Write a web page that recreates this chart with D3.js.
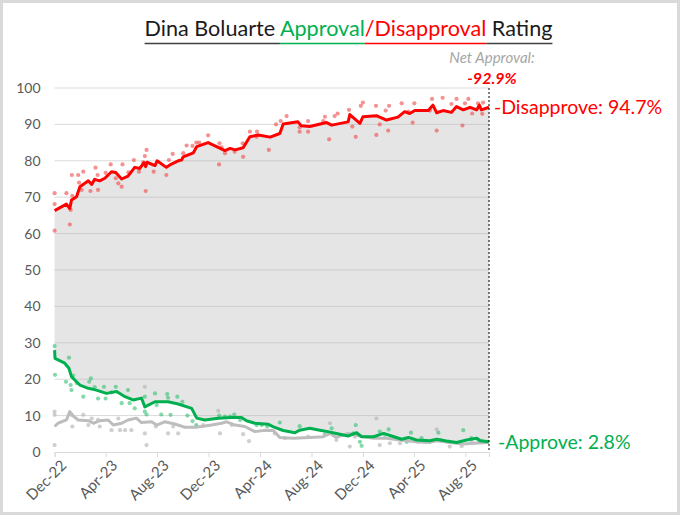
<!DOCTYPE html>
<html>
<head>
<meta charset="utf-8">
<script src="https://cdn.jsdelivr.net/npm/d3@7"></script>
<style>
  body { margin: 0; background: #fff; }
  svg { display: block; font-family: Lato, "Noto Sans", sans-serif; }
  .tick text { fill: #595959; }
</style>
</head>
<body>
<div id="chart"></div>
<script>
// Rolling averages (trend lines).
const disapproveTrend = [
  ['2022-12-01', 66.3], ['2022-12-29', 68.1], ['2023-01-06', 66.9], ['2023-01-10', 69.2],
  ['2023-01-22', 70.1], ['2023-01-30', 72.9], ['2023-02-19', 74.5], ['2023-02-27', 73.5],
  ['2023-03-06', 74.9], ['2023-03-18', 74.5], ['2023-03-30', 75.2], ['2023-04-15', 77.0],
  ['2023-04-25', 76.8], ['2023-05-09', 75.0], ['2023-05-24', 75.8], ['2023-06-09', 78.2],
  ['2023-06-21', 77.9], ['2023-07-01', 79.5], ['2023-07-05', 78.4], ['2023-07-08', 79.6],
  ['2023-07-27', 78.7], ['2023-08-01', 80.0], ['2023-08-23', 78.2], ['2023-09-04', 79.1],
  ['2023-09-20', 80.0], ['2023-09-28', 80.2], ['2023-10-02', 81.1], ['2023-10-26', 82.2],
  ['2023-11-03', 83.9], ['2023-11-30', 85.0], ['2023-12-20', 83.9], ['2024-01-09', 82.8],
  ['2024-01-21', 83.4], ['2024-02-02', 83.0], ['2024-02-21', 83.6], ['2024-03-08', 86.6],
  ['2024-03-28', 87.1], ['2024-04-25', 86.5], ['2024-05-18', 87.5], ['2024-05-26', 90.1],
  ['2024-06-30', 90.7], ['2024-07-08', 89.6], ['2024-07-28', 89.4], ['2024-09-06', 90.5],
  ['2024-09-18', 89.8], ['2024-10-27', 90.7], ['2024-10-31', 92.7], ['2024-11-24', 90.3],
  ['2024-12-01', 92.1], ['2025-01-02', 92.4], ['2025-01-26', 91.2], ['2025-02-22', 92.0],
  ['2025-03-10', 93.5], ['2025-03-22', 93.0], ['2025-04-03', 93.8], ['2025-05-05', 93.8],
  ['2025-05-16', 95.3], ['2025-05-25', 93.2], ['2025-06-09', 93.8], ['2025-06-29', 93.3],
  ['2025-07-11', 94.9], ['2025-07-27', 94.0], ['2025-08-12', 94.7], ['2025-08-28', 94.0],
  ['2025-09-03', 95.3], ['2025-09-08', 94.0], ['2025-09-26', 94.7],
];

const approveTrend = [
  ['2022-12-01', 28.0], ['2022-12-02', 25.7], ['2022-12-25', 24.4], ['2023-01-04', 23.0],
  ['2023-01-10', 20.7], ['2023-01-22', 19.3], ['2023-01-30', 18.4], ['2023-02-19', 17.5],
  ['2023-03-10', 17.0], ['2023-04-03', 16.1], ['2023-04-27', 16.6], ['2023-05-17', 15.2],
  ['2023-06-05', 14.3], ['2023-06-25', 14.8], ['2023-07-03', 12.4], ['2023-07-27', 13.8],
  ['2023-08-27', 13.8], ['2023-09-20', 13.2], ['2023-10-22', 12.0], ['2023-11-03', 9.3],
  ['2023-11-22', 8.8], ['2023-12-24', 9.3], ['2024-01-25', 9.5], ['2024-02-17', 9.5],
  ['2024-02-29', 8.6], ['2024-03-20', 7.9], ['2024-04-21', 7.6], ['2024-05-03', 6.9],
  ['2024-05-26', 5.9], ['2024-06-23', 5.3], ['2024-07-04', 6.0], ['2024-07-28', 6.5],
  ['2024-08-21', 6.0], ['2024-09-09', 5.6], ['2024-09-29', 5.1], ['2024-10-27', 4.4],
  ['2024-11-16', 5.3], ['2024-11-28', 4.2], ['2024-12-26', 4.2], ['2025-01-19', 5.1],
  ['2025-02-07', 4.4], ['2025-03-03', 3.5], ['2025-03-19', 4.0], ['2025-04-07', 3.3],
  ['2025-05-09', 3.1], ['2025-05-25', 3.5], ['2025-06-17', 3.0], ['2025-07-11', 2.6],
  ['2025-08-04', 3.3], ['2025-08-28', 3.8], ['2025-09-05', 3.1], ['2025-09-26', 2.8],
];

const undecidedTrend = [
  ['2022-12-01', 7.0], ['2022-12-09', 7.9], ['2022-12-29', 8.8], ['2023-01-06', 11.1],
  ['2023-01-14', 9.9], ['2023-01-26', 8.8], ['2023-02-19', 8.6], ['2023-03-03', 7.9],
  ['2023-03-18', 8.6], ['2023-04-07', 8.8], ['2023-04-19', 7.4], ['2023-05-09', 7.9],
  ['2023-05-24', 8.8], ['2023-06-13', 9.3], ['2023-06-25', 8.1], ['2023-07-19', 8.3],
  ['2023-07-31', 7.4], ['2023-08-19', 8.3], ['2023-09-12', 7.7], ['2023-10-06', 6.8],
  ['2023-10-30', 6.8], ['2023-11-15', 7.0], ['2023-12-08', 7.4], ['2024-01-01', 7.9],
  ['2024-01-13', 8.3], ['2024-02-02', 7.4], ['2024-02-25', 7.0], ['2024-03-20', 5.6],
  ['2024-04-13', 6.0], ['2024-05-03', 5.9], ['2024-05-18', 4.0], ['2024-06-19', 3.8],
  ['2024-07-28', 4.0], ['2024-08-29', 4.2], ['2024-09-14', 5.1], ['2024-09-29', 4.0],
  ['2024-10-27', 5.1], ['2024-11-24', 4.4], ['2024-12-26', 3.8], ['2025-01-26', 3.8],
  ['2025-02-27', 3.3], ['2025-04-07', 2.8], ['2025-05-01', 2.6], ['2025-05-25', 3.1],
  ['2025-06-25', 2.6], ['2025-07-27', 2.2], ['2025-08-20', 2.4], ['2025-09-26', 2.6],
];

// Individual polls (dots).
const disapprovePolls = [
  ['2022-12-01', 71.1], ['2022-12-01', 68.1], ['2022-12-01', 60.8], ['2022-12-29', 71.1],
  ['2023-01-08', 66.5], ['2023-01-06', 62.5], ['2023-01-12', 70.4], ['2023-01-11', 76.1],
  ['2023-01-26', 76.1], ['2023-01-28', 74.0], ['2023-02-03', 72.0], ['2023-02-07', 77.0],
  ['2023-02-24', 71.7], ['2023-03-08', 78.1], ['2023-03-13', 76.1], ['2023-03-14', 72.0],
  ['2023-04-01', 76.7], ['2023-04-13', 79.0], ['2023-04-25', 75.2], ['2023-05-01', 73.8],
  ['2023-05-09', 72.9], ['2023-05-11', 79.0], ['2023-05-25', 76.8], ['2023-06-07', 80.2],
  ['2023-06-19', 77.0], ['2023-06-29', 79.6], ['2023-07-03', 81.3], ['2023-07-07', 83.0],
  ['2023-07-05', 71.7], ['2023-07-24', 77.0], ['2023-08-23', 76.1], ['2023-08-29', 80.2],
  ['2023-09-07', 81.9], ['2023-10-02', 82.1], ['2023-10-10', 84.2], ['2023-10-24', 84.1],
  ['2023-11-02', 85.0], ['2023-11-09', 85.0], ['2023-11-30', 87.0], ['2023-12-26', 79.0],
  ['2023-12-27', 84.8], ['2024-01-01', 83.7], ['2024-01-09', 82.1], ['2024-02-01', 82.5],
  ['2024-02-20', 84.8], ['2024-02-21', 81.1], ['2024-03-08', 88.0], ['2024-03-24', 86.6],
  ['2024-03-25', 88.0], ['2024-04-22', 83.0], ['2024-05-09', 90.0], ['2024-05-20', 90.9],
  ['2024-06-03', 92.3], ['2024-07-04', 89.2], ['2024-07-04', 88.0], ['2024-07-24', 90.9],
  ['2024-07-24', 88.0], ['2024-08-29', 90.9], ['2024-09-02', 92.1], ['2024-09-12', 85.9],
  ['2024-09-25', 92.3], ['2024-10-02', 93.0], ['2024-10-29', 94.0], ['2024-11-06', 89.4],
  ['2024-11-14', 86.6], ['2024-11-26', 95.1], ['2024-12-01', 96.0], ['2025-01-01', 95.1],
  ['2025-01-02', 87.1], ['2025-01-10', 90.0], ['2025-01-24', 93.8], ['2025-01-30', 88.3],
  ['2025-02-01', 95.1], ['2025-03-03', 95.8], ['2025-03-19', 93.5], ['2025-03-29', 90.5],
  ['2025-04-02', 95.8], ['2025-05-09', 93.8], ['2025-05-14', 97.0], ['2025-05-25', 88.3],
  ['2025-06-08', 97.3], ['2025-06-29', 95.6], ['2025-07-11', 97.0], ['2025-07-25', 89.7],
  ['2025-07-31', 95.8], ['2025-08-08', 97.0], ['2025-08-17', 93.0], ['2025-08-31', 95.8],
  ['2025-09-10', 92.9], ['2025-09-12', 96.0],
];

const approvePolls = [
  ['2022-12-01', 29.1], ['2022-12-02', 21.2], ['2023-01-04', 25.9], ['2022-12-28', 19.3],
  ['2023-01-08', 18.4], ['2023-01-10', 17.0], ['2023-01-14', 21.0], ['2023-01-23', 18.9],
  ['2023-02-07', 15.2], ['2023-02-21', 19.3], ['2023-02-25', 20.2], ['2023-03-06', 17.8],
  ['2023-03-14', 14.7], ['2023-03-28', 17.9], ['2023-04-01', 14.7], ['2023-04-15', 16.4],
  ['2023-04-25', 17.9], ['2023-05-09', 13.4], ['2023-05-24', 17.0], ['2023-05-28', 13.4],
  ['2023-06-09', 12.0], ['2023-07-03', 15.2], ['2023-07-03', 11.1], ['2023-07-07', 10.3],
  ['2023-07-27', 16.1], ['2023-07-31', 12.9], ['2023-08-11', 10.3], ['2023-08-25', 15.9],
  ['2023-08-27', 14.9], ['2023-09-02', 10.2], ['2023-09-18', 15.2], ['2023-09-30', 13.8],
  ['2023-10-12', 10.0], ['2023-10-24', 8.5], ['2023-11-02', 7.4], ['2023-12-26', 10.0],
  ['2024-01-09', 9.7], ['2024-01-21', 9.7], ['2024-01-31', 10.3], ['2024-02-14', 8.8],
  ['2024-03-24', 7.4], ['2024-04-05', 7.4], ['2024-04-18', 7.0], ['2024-05-18', 8.1],
  ['2024-07-04', 7.1], ['2024-09-02', 4.9], ['2024-09-18', 6.5], ['2024-11-08', 5.1],
  ['2024-11-14', 7.4], ['2024-11-24', 2.8], ['2024-11-28', 1.7], ['2025-01-10', 5.6],
  ['2025-01-22', 4.7], ['2025-01-31', 6.2], ['2025-03-15', 2.8], ['2025-03-25', 5.3],
  ['2025-04-19', 3.8], ['2025-05-09', 2.8], ['2025-05-29', 5.3], ['2025-06-02', 3.3],
  ['2025-06-22', 2.8], ['2025-07-27', 6.0], ['2025-08-15', 3.8], ['2025-08-31', 3.3],
];

const undecidedPolls = [
  ['2022-12-01', 11.1], ['2022-12-01', 10.2], ['2022-12-01', 1.9], ['2023-01-10', 10.2],
  ['2023-01-12', 7.0], ['2023-02-07', 10.2], ['2023-02-19', 7.4], ['2023-02-27', 9.2],
  ['2023-03-14', 8.8], ['2023-03-18', 7.0], ['2023-04-15', 6.0], ['2023-05-01', 9.2],
  ['2023-05-05', 6.0], ['2023-05-17', 6.0], ['2023-06-01', 6.0], ['2023-07-03', 17.9],
  ['2023-07-03', 5.1], ['2023-07-07', 1.9], ['2023-07-29', 7.0], ['2023-08-27', 5.1],
  ['2023-09-08', 7.0], ['2023-09-20', 5.1], ['2023-11-02', 7.0], ['2023-11-18', 7.4],
  ['2023-12-24', 11.3], ['2023-12-28', 5.1], ['2024-01-25', 7.4], ['2024-02-21', 4.9],
  ['2024-03-06', 3.0], ['2024-05-06', 5.1], ['2024-05-30', 3.8], ['2024-07-24', 4.2],
  ['2024-09-14', 7.9], ['2024-09-29', 3.3], ['2024-10-31', 1.5], ['2024-11-12', 4.2],
  ['2025-01-02', 9.2], ['2025-01-10', 1.9], ['2025-02-03', 2.4], ['2025-02-27', 2.4],
  ['2025-04-11', 2.8], ['2025-05-25', 6.2], ['2025-06-25', 1.5], ['2025-07-23', 1.6],
  ['2025-08-16', 2.8], ['2025-09-08', 3.1],
];

const xTickDates = ['2022-12-01', '2023-04-01', '2023-08-01', '2023-12-01', '2024-04-01',
  '2024-08-01', '2024-12-01', '2025-04-01', '2025-08-01'];
const xTickLabels = ['Dec-22', 'Apr-23', 'Aug-23', 'Dec-23', 'Apr-24', 'Aug-24', 'Dec-24', 'Apr-25', 'Aug-25'];
const yTicks = [0, 10, 20, 30, 40, 50, 60, 70, 80, 90, 100];

const startDate = '2022-12-01';
const lastDate = '2025-09-26';
const latestApprove = 2.8;
const latestDisapprove = 94.7;
const netApproval = -92.9;

const titleParts = ['Dina Boluarte ', 'Approval', '/Disapproval', ' Rating'];

// Colours
const red = '#ff0000';
const green = '#00b050';
const grey = '#bdbdbd';

const parse = d3.timeParse('%Y-%m-%d');
const rows = (list) => list.map(([d, v]) => ({ date: parse(d), value: v }));

const width = 680;
const height = 515;
const margin = { top: 88, right: 191, bottom: 63, left: 54.6 };
const innerW = width - margin.left - margin.right;
const innerH = height - margin.top - margin.bottom;

const x = d3.scaleTime()
  .domain([parse(startDate), parse(lastDate)])
  .range([0, innerW]);
const y = d3.scaleLinear()
  .domain([0, 100])
  .range([innerH, 0]);

const svg = d3.select('#chart').append('svg')
  .attr('width', width)
  .attr('height', height);

svg.append('rect')
  .attr('x', 1.5).attr('y', 1.5)
  .attr('width', width - 3).attr('height', height - 3)
  .attr('fill', '#fff')
  .attr('stroke', '#d9d9d9')
  .attr('stroke-width', 3);

// Title with the coloured words and a matching underline.
const titleColors = ['#1a1a1a', green, red, '#1a1a1a'];
const lineColors = ['#404040', green, red, '#404040'];
const title = svg.append('text')
  .attr('x', 348.5)
  .attr('y', 36)
  .attr('text-anchor', 'middle')
  .style('font-size', '21.6px');
title.selectAll('tspan')
  .data(titleParts)
  .join('tspan')
  .attr('fill', (d, i) => titleColors[i])
  .style('white-space', 'pre')
  .text((d) => d);
title.selectAll('tspan').each(function (d, i) {
  const start = this.getStartPositionOfChar(0).x;
  const len = this.getComputedTextLength();
  svg.append('line')
    .attr('x1', start).attr('x2', start + len)
    .attr('y1', 43.5).attr('y2', 43.5)
    .attr('stroke', lineColors[i])
    .attr('stroke-width', 1.5);
});

const g = svg.append('g')
  .attr('transform', `translate(${margin.left},${margin.top})`);

const disapprove = rows(disapproveTrend);
const approve = rows(approveTrend);
const undecided = rows(undecidedTrend);
const line = d3.line().x((d) => x(d.date)).y((d) => y(d.value));

// Gridlines
g.append('g')
  .selectAll('line')
  .data(yTicks.filter((t) => t > 0))
  .join('line')
  .attr('x1', 0).attr('x2', innerW)
  .attr('y1', (d) => y(d)).attr('y2', (d) => y(d))
  .attr('stroke', '#d9d9d9')
  .attr('stroke-width', 1);

// Shaded band between disapproval and approval.
const band = disapprove.concat([...approve].reverse());
g.append('path')
  .attr('d', `${line(band)}Z`)
  .attr('fill', 'rgba(180,180,180,0.35)');

// Y axis (labels only)
const yAxis = d3.axisLeft(y).tickValues(yTicks).tickSize(0).tickPadding(14);
g.append('g')
  .call(yAxis)
  .call((s) => s.select('.domain').remove())
  .selectAll('text')
  .style('font-size', '14px')
  .style('font-family', 'Lato, sans-serif');

// X axis
const xAxis = d3.axisBottom(x)
  .tickValues(xTickDates.map(parse))
  .tickFormat((d, i) => xTickLabels[i])
  .tickSizeOuter(0)
  .tickSize(5);
const xg = g.append('g')
  .attr('transform', `translate(0,${innerH})`)
  .call(xAxis);
xg.select('.domain').attr('stroke', '#d9d9d9');
xg.selectAll('.tick line').attr('stroke', '#d9d9d9');
xg.selectAll('.tick text')
  .style('font-size', '15px')
  .style('font-family', 'Lato, sans-serif')
  .attr('text-anchor', 'end')
  .attr('dx', '-0.1em')
  .attr('dy', '0.35em')
  .attr('transform', 'translate(4,4) rotate(-45)');

// Poll dots
const dots = (list, color, opacity) => {
  g.append('g')
    .selectAll('circle')
    .data(rows(list))
    .join('circle')
    .attr('cx', (d) => x(d.date))
    .attr('cy', (d) => y(d.value))
    .attr('r', 2.1)
    .attr('fill', color)
    .attr('fill-opacity', opacity);
};
dots(undecidedPolls, '#b5b5b5', 0.65);
dots(approvePolls, '#2fbf6f', 0.6);
dots(disapprovePolls, '#f04848', 0.6);

// Trend lines
[[undecided, grey], [approve, green], [disapprove, red]].forEach(([data, color]) => {
  g.append('path')
    .datum(data)
    .attr('d', line)
    .attr('fill', 'none')
    .attr('stroke', color)
    .attr('stroke-width', 3)
    .attr('stroke-linejoin', 'round');
});

// Dotted marker for the latest date
const endX = x(parse(lastDate));
g.append('line')
  .attr('x1', endX).attr('x2', endX)
  .attr('y1', y(100)).attr('y2', y(0))
  .attr('stroke', '#000')
  .attr('stroke-width', 1)
  .attr('stroke-dasharray', '2,2');

// End labels
g.append('text')
  .attr('x', endX + 5)
  .attr('y', y(latestDisapprove))
  .attr('dy', '0.35em')
  .attr('fill', red)
  .style('font-size', '19.5px')
  .text(`-Disapprove: ${latestDisapprove}%`);
g.append('text')
  .attr('x', endX + 9)
  .attr('y', y(latestApprove))
  .attr('dy', '0.35em')
  .attr('fill', green)
  .style('font-size', '19.5px')
  .text(`-Approve: ${latestApprove}%`);

g.append('text')
  .attr('x', endX + 3)
  .attr('y', -25)
  .attr('text-anchor', 'middle')
  .attr('fill', '#a6a6a6')
  .style('font-size', '15px')
  .style('font-style', 'italic')
  .text('Net Approval:');
g.append('text')
  .attr('x', endX + 3)
  .attr('y', -4)
  .attr('text-anchor', 'middle')
  .attr('fill', red)
  .style('font-size', '16px')
  .style('font-style', 'italic')
  .style('font-weight', 'bold')
  .text(`${netApproval.toFixed(1)}%`);
</script>
</body>
</html>
